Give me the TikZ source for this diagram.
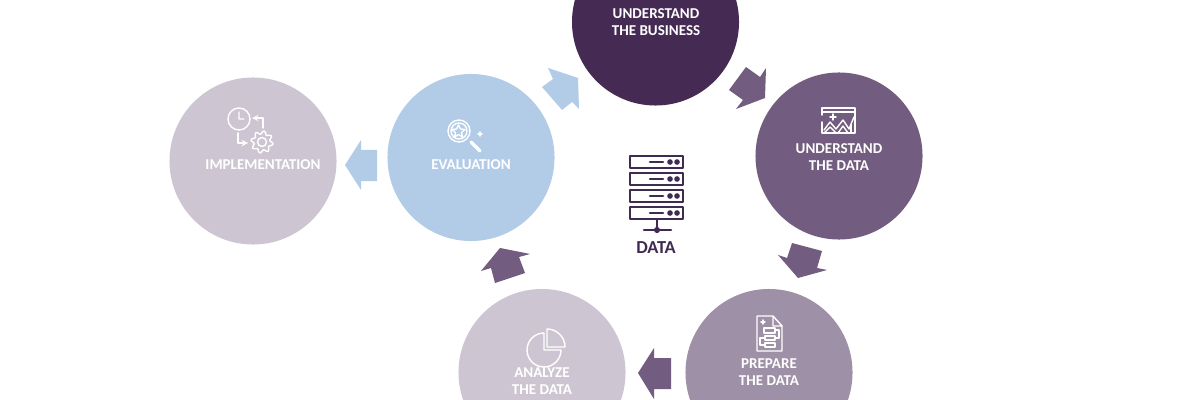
\documentclass[tikz,border=0pt]{standalone}
\usepackage{fontspec}
\setmainfont{Carlito}
\definecolor{bizcol}{HTML}{452A53}
\definecolor{datacol}{HTML}{725C7F}
\definecolor{prepcol}{HTML}{9E90A6}
\definecolor{palecol}{HTML}{CDC6D2}
\definecolor{evalcol}{HTML}{B2CCE7}
\definecolor{srvcol}{HTML}{3F2B52}
\begin{document}
\begin{tikzpicture}[x=.025cm,y=-.025cm,line join=round,line cap=round,font=\bfseries\fontsize{10.7}{12}\selectfont,
	disc/.style={circle,minimum size=4.175cm,inner sep=0pt},
	word/.style={text=white,align=center,inner sep=0pt},
	icon/.style={white,line width=1pt},
	srv/.style={srvcol,line width=1.8pt}]
	\useasboundingbox (0,0) rectangle (1200,400);
	\clip (0,0) rectangle (1200,400);
	\fill[white] (0,0) rectangle (1200,400);
	\node[disc,fill=bizcol] (biz) at (655.5,22) {};
	\node[disc,fill=datacol] (dat) at (839,156) {};
	\node[disc,fill=prepcol] (prep) at (769,372.5) {};
	\node[disc,fill=palecol] (ana) at (542,372.5) {};
	\node[disc,fill=evalcol] (eval) at (471,157.5) {};
	\node[disc,fill=palecol] (impl) at (253,161) {};
	\node[word] (bizt) at (656,22) {UNDERSTAND\\THE BUSINESS};
	\node[word] (datt) at (839,157) {UNDERSTAND\\THE DATA};
	\node[word] (prept) at (769,372.5) {PREPARE\\THE DATA};
	\node[word] (anat) at (542,381.5) {ANALYZE\\THE DATA};
	\node[word] (evalt) at (471,165) {EVALUATION};
	\node[word] (implt) at (263,165) {IMPLEMENTATION};
	\node[text=srvcol,inner sep=0pt,font=\bfseries\fontsize{13}{14}\selectfont] (srvt) at (656,248) {DATA};
	\fill[datacol] (766,68)--(765,98)--(736,109)--(743,100)--(729,90)--(746,67)--(760,77)--cycle;
	\fill[datacol] (798,278)--(827,270)--(817,268)--(822,251)--(792,243)--(787,258)--(778,255)--cycle;
	\fill[datacol] (638,373)--(654,348)--(654,358)--(671,358)--(671,389)--(654,389)--(654,399)--cycle;
	\fill[datacol] (500,248)--(530,254)--(519,257)--(525,273)--(495,283)--(491,268)--(481,271)--cycle;
	\fill[evalcol] (578,78)--(548,68)--(553,79)--(542,87)--(562,110)--(572,102)--(579,109)--cycle;
	\fill[evalcol] (345,165)--(361,140)--(361,150)--(377,150)--(377,181)--(361,181)--(361,190)--cycle;
	\foreach \y in {156,173,190,207}{
		\draw[srv] (630,\y) rectangle (683,\y+12);
		\draw[srv] (650,\y+6)--(663,\y+6);
		\fill[srvcol] (670,\y+6) circle (2pt) (677,\y+6) circle (2pt);
	}
	\draw[srv] (657,220)--(657,230) (644,230)--(671,230);
	\fill[srvcol] (657,230) circle (2.2pt);
	\draw[icon] (822,115)--(822,108)--(855,108)--(855,133)--(822,133)--(822,122) (822,112)--(855,112);
	\draw[icon] (824,130)--(830,122)--(836,129)--(843,120)--(849,129)--(854,117);
	\draw[icon] (824,133)--(830,127)--(836,133) (838,133)--(843,126)--(848,133);
	\draw[icon] (833,114)--(833,120) (830,117)--(836,117) (851,125)--(851,133);
	\draw[icon] (239,119) circle (11) (239,112)--(239,119)--(244,119);
	\draw[icon,-stealth] (263,128)--(263,118)--(252,118);
	\draw[icon,-stealth] (238,133)--(238,143)--(248,143);
	\draw[icon] plot[smooth,samples=65,domain=0:360] ({262+(9.5+1.6*sin(8*\x))*cos(\x)},{142+(9.5+1.6*sin(8*\x))*sin(\x)});
	\draw[icon] (262,142) circle (4.5);
	\draw[icon] (459,131) circle (11) (459,131) circle (8);
	\draw[icon,line width=2.4pt] (471,142)--(480,151);
	\draw[icon] (458.5,125)--(460.5,129)--(465,129.5)--(461.5,132.5)--(462.5,137)--(458.5,134.5)--(454.5,137)--(455.5,132.5)--(452,129.5)--(456.5,129)--cycle;
	\draw[icon] (480,132)--(480,136) (478,134)--(482,134);
	\draw[icon] (757,316)--(773,316)--(782,326)--(782,351)--(757,351)--cycle (773,316)--(773,326)--(782,326);
	\draw[icon] (764,328) rectangle (775,333) (765,336) rectangle (775,340) (765,343) rectangle (775,347);
	\draw[icon] (775,330)--(779,330)--(779,338)--(775,338) (765,338)--(760,338)--(760,345)--(765,345);
	\draw[icon] (763,320)--(763,324) (761,322)--(765,322);
	\draw[icon] (544,333) arc (270:0:17) (544,333)--(544,350)--(561,350);
	\draw[icon] (547,329)--(547,347)--(565,347) arc (0:-90:18);
\end{tikzpicture}
\end{document}
